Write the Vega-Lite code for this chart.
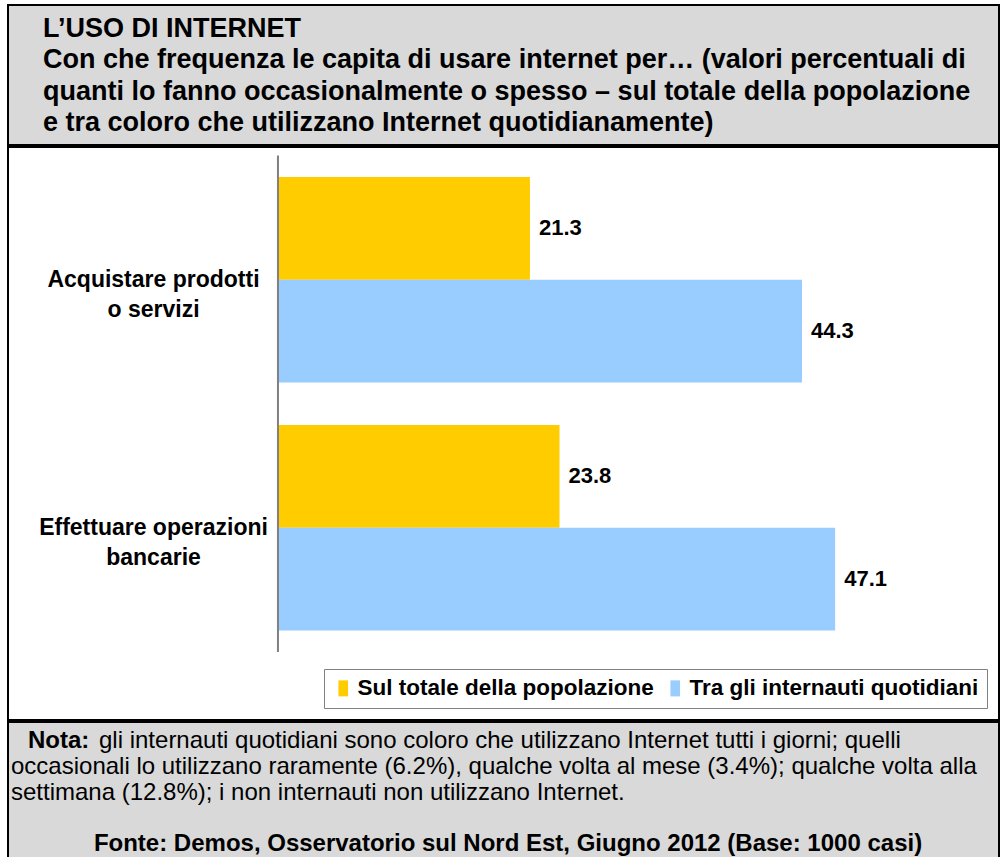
{
  "$schema": "https://vega.github.io/schema/vega-lite/v6.json",
  "background": "white",
  "padding": {"left": 7, "top": 4, "right": 3, "bottom": 0},
  "spacing": 0,
  "resolve": {"legend": {"color": "independent"}},
  "config": {
    "font": "Liberation Sans",
    "view": {"stroke": "black", "strokeWidth": 2},
    "text": {"font": "Liberation Sans", "color": "black"}
  },
  "vconcat": [
    {
      "width": 991,
      "height": 140,
      "view": {"fill": "#d9d9d9", "stroke": "black", "strokeWidth": 2},
      "data": {
        "values": [
          {"line": 0, "text": "L’USO DI INTERNET"},
          {"line": 1, "text": "Con che frequenza le capita di usare internet per… (valori percentuali di"},
          {"line": 2, "text": "quanti lo fanno occasionalmente o spesso – sul totale della popolazione"},
          {"line": 3, "text": "e tra coloro che utilizzano Internet quotidianamente)"}
        ]
      },
      "mark": {"type": "text", "align": "left", "baseline": "middle", "fontWeight": "bold", "fontSize": 27},
      "encoding": {
        "x": {"value": 35},
        "y": {"field": "line", "type": "quantitative", "axis": null,
              "scale": {"domain": [-0.746, 3.698], "reverse": true, "nice": false, "zero": false}},
        "text": {"field": "text"}
      }
    },
    {
      "width": 991,
      "height": 573,
      "view": {"fill": "white", "stroke": "black", "strokeWidth": 2},
      "data": {
        "values": [
          {"cat": "Acquistare prodotti o servizi", "serie": "Sul totale della popolazione", "value": 21.3},
          {"cat": "Acquistare prodotti o servizi", "serie": "Tra gli internauti quotidiani", "value": 44.3},
          {"cat": "Effettuare operazioni bancarie", "serie": "Sul totale della popolazione", "value": 23.8},
          {"cat": "Effettuare operazioni bancarie", "serie": "Tra gli internauti quotidiani", "value": 47.1}
        ]
      },
      "layer": [
        {
          "mark": {"type": "bar"},
          "encoding": {
            "y": {
              "field": "cat", "type": "nominal",
              "scale": {"paddingInner": 0.171, "paddingOuter": 0.241, "align": 0.251},
              "axis": {
                "title": null, "domain": false, "ticks": false, "tickSize": 0, "grid": false,
                "offset": -270, "labelAlign": "center", "labelBaseline": "middle",
                "labelPadding": 125, "labelFontSize": 23, "labelFontWeight": "bold",
                "labelFont": "Liberation Sans", "labelColor": "black", "labelLineHeight": 30,
                "labelLimit": 400,
                "labelExpr": "datum.value == 'Acquistare prodotti o servizi' ? ['Acquistare prodotti', 'o servizi'] : ['Effettuare operazioni', 'bancarie']"
              }
            },
            "yOffset": {"field": "serie", "type": "nominal", "sort": ["Sul totale della popolazione", "Tra gli internauti quotidiani"]},
            "x": {"field": "value", "type": "quantitative", "axis": null,
                  "scale": {"domain": [-22.82, 60.95], "nice": false, "zero": false}},
            "x2": {"datum": 0},
            "color": {
              "field": "serie", "type": "nominal",
              "sort": ["Sul totale della popolazione", "Tra gli internauti quotidiani"],
              "scale": {"range": ["#FFCC00", "#99CCFF"]},
              "legend": {
                "title": null, "orient": "bottom-right", "offset": 12, "direction": "horizontal",
                "padding": 8, "strokeColor": "#808080", "fillColor": "white",
                "symbolType": "M-0.6,-1H0.6V1H-0.6Z", "symbolSize": 256, "symbolStrokeWidth": 0,
                "symbolOpacity": 1,
                "labelFontSize": 22.5, "labelFontWeight": "bold", "labelColor": "black",
                "labelFont": "Liberation Sans", "labelLimit": 400, "columnPadding": 10, "labelOffset": 3
              }
            }
          }
        },
        {
          "mark": {"type": "text", "align": "left", "baseline": "middle", "dx": 9, "fontSize": 22, "fontWeight": "bold"},
          "encoding": {
            "y": {"field": "cat", "type": "nominal"},
            "yOffset": {"field": "serie", "type": "nominal", "sort": ["Sul totale della popolazione", "Tra gli internauti quotidiani"]},
            "x": {"field": "value", "type": "quantitative"},
            "text": {"field": "value", "type": "quantitative", "format": ".1f"}
          }
        },
        {
          "data": {"values": [{"from": "Acquistare prodotti o servizi", "to": "Effettuare operazioni bancarie"}]},
          "mark": {"type": "rule", "color": "#808080", "strokeWidth": 2},
          "encoding": {
            "x": {"datum": 0},
            "y": {"field": "from", "type": "nominal", "bandPosition": -0.105},
            "y2": {"field": "to", "bandPosition": 1.105}
          }
        }
      ]
    },
    {
      "width": 991,
      "height": 138,
      "view": {"fill": "#d9d9d9", "stroke": "black", "strokeWidth": 2},
      "data": {
        "values": [
          {"line": 0, "part": "nota", "text": "Nota:"},
          {"line": 0, "part": "body1", "text": "gli internauti quotidiani sono coloro che utilizzano Internet tutti i giorni; quelli"},
          {"line": 1, "part": "body", "text": "occasionali lo utilizzano raramente (6.2%), qualche volta al mese (3.4%); qualche volta alla"},
          {"line": 2, "part": "body", "text": "settimana (12.8%); i non internauti non utilizzano Internet."},
          {"line": 4, "part": "fonte", "text": "Fonte: Demos, Osservatorio sul Nord Est, Giugno 2012 (Base: 1000 casi)"}
        ]
      },
      "encoding": {
        "y": {"field": "line", "type": "quantitative", "axis": null,
              "scale": {"domain": [-0.738, 4.62], "reverse": true, "nice": false, "zero": false}},
        "text": {"field": "text"}
      },
      "layer": [
        {
          "transform": [{"filter": "datum.part == 'nota'"}],
          "mark": {"type": "text", "align": "left", "baseline": "middle", "fontSize": 24, "fontWeight": "bold"},
          "encoding": {"x": {"value": 20}}
        },
        {
          "transform": [{"filter": "datum.part == 'body1'"}],
          "mark": {"type": "text", "align": "left", "baseline": "middle", "fontSize": 24},
          "encoding": {"x": {"value": 91}}
        },
        {
          "transform": [{"filter": "datum.part == 'body'"}],
          "mark": {"type": "text", "align": "left", "baseline": "middle", "fontSize": 24},
          "encoding": {"x": {"value": 3}}
        },
        {
          "transform": [{"filter": "datum.part == 'fonte'"}],
          "mark": {"type": "text", "align": "center", "baseline": "middle", "fontSize": 24, "fontWeight": "bold"},
          "encoding": {"x": {"value": 500}}
        }
      ]
    }
  ]
}
